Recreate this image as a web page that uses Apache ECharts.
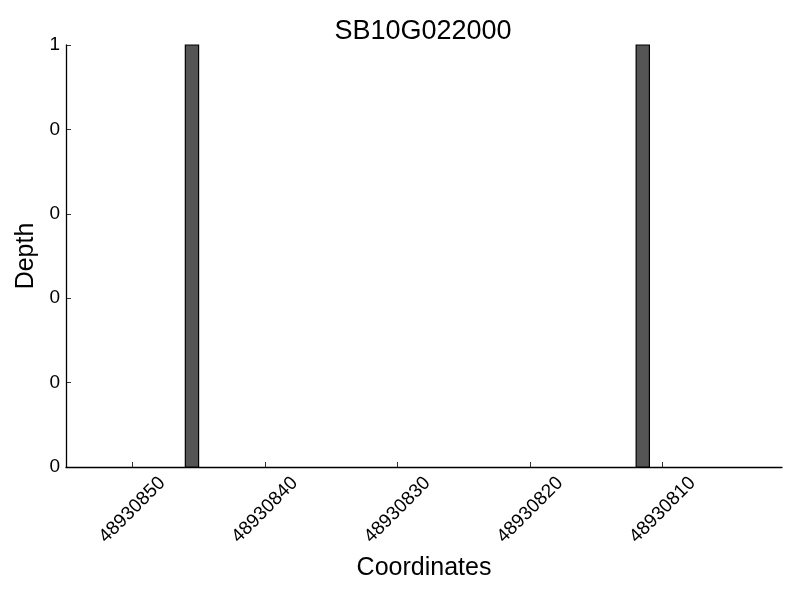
<!DOCTYPE html>
<html>
<head>
<meta charset="utf-8">
<script src="https://cdn.jsdelivr.net/npm/echarts@6/dist/echarts.min.js"></script>
<style>html,body{margin:0;padding:0;background:#fff}#c{width:800px;height:600px}</style>
</head>
<body>
<div id="c"></div>
<script>
var title = "SB10G022000";
var positions = [48930846, 48930812];
var depths = [1, 1];
var xTicks = [48930850, 48930840, 48930830, 48930820, 48930810];
var xMin = 48930801, xMax = 48930855;

var chart = echarts.init(document.getElementById('c'), null, {renderer: 'canvas'});
var font = 'Liberation Sans, Arial, sans-serif';
var data = positions.map(function (p, i) { return [p, depths[i]]; });

chart.setOption({
  animation: false,
  backgroundColor: '#fff',
  title: {
    text: title, left: 418, top: 13, textAlign: 'center',
    textStyle: {fontFamily: font, fontSize: 27, fontWeight: 'normal', color: '#000'}
  },
  grid: {left: 66, right: 18, top: 45, bottom: 133, containLabel: false, outerBoundsMode: 'none'},
  xAxis: {
    type: 'value', min: xMin, max: xMax, inverse: true,
    name: 'Coordinates', nameLocation: 'middle', nameGap: 89,
    nameTextStyle: {fontFamily: font, fontSize: 25, color: '#000'},
    axisLine: {show: true, onZero: false, lineStyle: {color: '#000', width: 1.3}},
    axisTick: {show: true, inside: true, length: 5, lineStyle: {color: '#000', width: 0.8},
      customValues: xTicks},
    axisLabel: {rotate: 45, fontFamily: font, fontSize: 19, color: '#000', margin: 43,
      align: 'center', verticalAlign: 'middle',
      customValues: xTicks, formatter: function (v) { return String(v); }},
    splitLine: {show: false}
  },
  yAxis: {
    type: 'value', min: 0, max: 1, interval: 0.2,
    name: 'Depth', nameLocation: 'middle', nameGap: 27,
    nameTextStyle: {fontFamily: font, fontSize: 25, color: '#000'},
    axisLine: {show: true, lineStyle: {color: '#000', width: 1.3}},
    axisTick: {show: true, inside: true, length: 5, lineStyle: {color: '#000', width: 0.8}},
    axisLabel: {fontFamily: font, fontSize: 19, color: '#000', margin: 6,
      formatter: function (v) { return String(Math.floor(v + 1e-9)); }},
    splitLine: {show: false}
  },
  series: [{
    type: 'custom',
    data: data,
    renderItem: function (params, api) {
      var x = api.value(0), d = api.value(1);
      var p1 = api.coord([x, d]);
      var p0 = api.coord([x - 1, 0]);
      var left = Math.min(p0[0], p1[0]), right = Math.max(p0[0], p1[0]);
      return {
        type: 'rect',
        shape: {x: left, y: p1[1], width: right - left, height: p0[1] - p1[1]},
        style: {fill: '#555555', stroke: '#000', lineWidth: 1.2}
      };
    }
  }]
});
</script>
</body>
</html>
